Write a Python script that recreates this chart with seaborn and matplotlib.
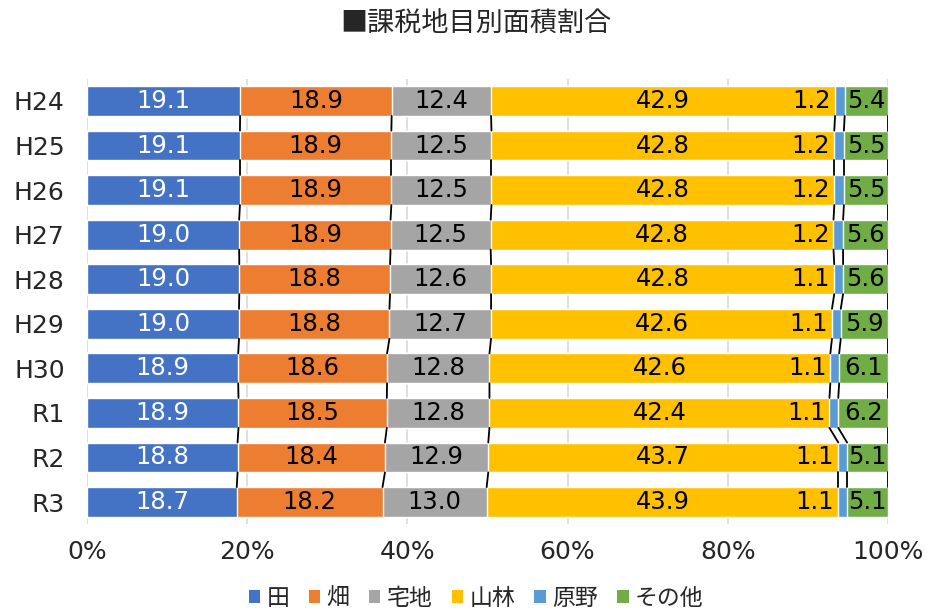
import numpy as np
import pandas as pd
import matplotlib
matplotlib.use("Agg")
import matplotlib.pyplot as plt
from matplotlib.patches import Patch
import seaborn as sns

categories = ["H24", "H25", "H26", "H27", "H28", "H29", "H30", "R1", "R2", "R3"]
series_names = ["田", "畑", "宅地", "山林", "原野", "その他"]
ta = [19.1, 19.1, 19.1, 19.0, 19.0, 19.0, 18.9, 18.9, 18.8, 18.7]
hatake = [18.9, 18.9, 18.9, 18.9, 18.8, 18.8, 18.6, 18.5, 18.4, 18.2]
takuchi = [12.4, 12.5, 12.5, 12.5, 12.6, 12.7, 12.8, 12.8, 12.9, 13.0]
sanrin = [42.9, 42.8, 42.8, 42.8, 42.8, 42.6, 42.6, 42.4, 43.7, 43.9]
genya = [1.2, 1.2, 1.2, 1.2, 1.1, 1.1, 1.1, 1.1, 1.1, 1.1]
sonota = [5.4, 5.5, 5.5, 5.6, 5.6, 5.9, 6.1, 6.2, 5.1, 5.1]
colors = ["#4472C4", "#ED7D31", "#A5A5A5", "#FFC000", "#5B9BD5", "#70AD47"]
xticks = [0, 20, 40, 60, 80, 100]
xtick_labels = ["0%", "20%", "40%", "60%", "80%", "100%"]
title = "■課税地目別面積割合"

sns.set_theme(style="white")
plt.rcParams["font.family"] = ["DejaVu Sans", "Noto Sans CJK JP"]

vals = np.array([ta, hatake, takuchi, sanrin, genya, sonota])  # series x cat
totals = vals.sum(axis=0)
pct = vals / totals * 100
cum = np.cumsum(pct, axis=0)
starts = cum - pct

fig = plt.figure(figsize=(9.3, 6.12), dpi=100)
ax = fig.add_axes([0.0935, 0.1433, 0.8613, 0.7281])

bw = 0.67
for i in range(len(series_names) - 1, -1, -1):
    df = pd.DataFrame({"cat": categories, "val": cum[i]})
    sns.barplot(data=df, x="val", y="cat", orient="h", color=colors[i],
                width=bw, saturation=1, ax=ax, zorder=2)

# series lines
for i in range(len(series_names)):
    for j in range(len(categories) - 1):
        ax.plot([cum[i][j], cum[i][j + 1]], [j + bw / 2, j + 1 - bw / 2],
                color="black", lw=1.3, zorder=3)

# labels
fs = 17.5
for i in range(len(series_names)):
    for j in range(len(categories)):
        txt = f"{vals[i][j]:.1f}"
        col = "white" if i == 0 else "black"
        if series_names[i] == "原野":
            ax.text(starts[i][j] - 0.5, j, txt, ha="right", va="center",
                    fontsize=fs, color=col, zorder=4)
        else:
            ax.text(starts[i][j] + pct[i][j] / 2, j, txt, ha="center", va="center",
                    fontsize=fs, color=col, zorder=4)

ax.set_xlim(0, 100)
ax.set_ylim(9.5, -0.5)
ax.set_xticks(xticks)
ax.set_xticklabels(xtick_labels, fontsize=18)
ax.tick_params(axis="x", length=0, pad=11)
ax.tick_params(axis="y", length=0, pad=16, labelsize=18)
ax.set_xlabel("")
ax.set_ylabel("")
ax.grid(axis="x", color="#D9D9D9", lw=1.2, zorder=0)
ax.set_axisbelow(True)
for s in ax.spines.values():
    s.set_visible(False)

handles = [Patch(facecolor=c, edgecolor="none") for c in colors]
fig.legend(handles, series_names, loc="center", bbox_to_anchor=(0.512, 0.022),
           ncol=6, frameon=False, fontsize=16.5, handlelength=0.5, handleheight=0.5,
           handletextpad=0.27, columnspacing=0.85,
           prop={"family": ["Noto Sans CJK JP"], "size": 16.5})

fig.text(0.512, 0.96, title, ha="center", va="center", fontsize=19.5,
         family=["Noto Sans CJK JP"])

fig.savefig("out.png", dpi=100)
